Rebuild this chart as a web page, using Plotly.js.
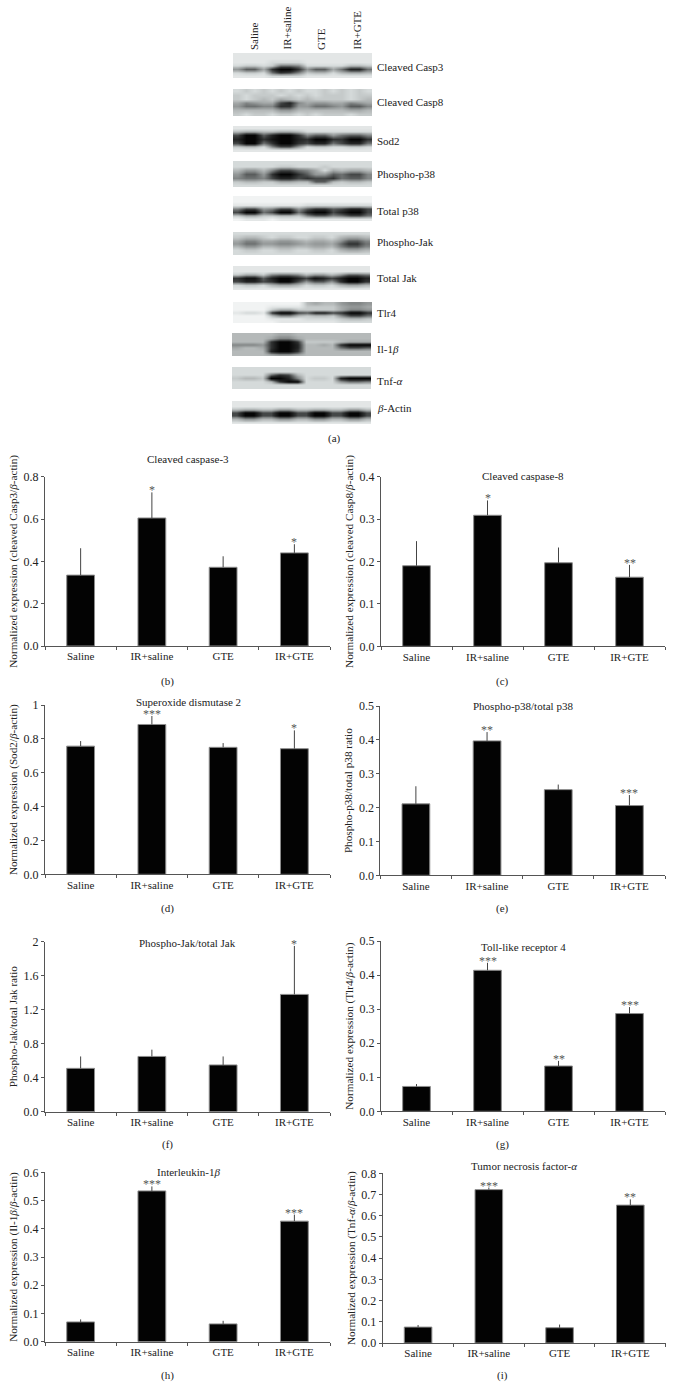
<!DOCTYPE html>
<html>
<head>
<meta charset="utf-8">
<script src="https://cdn.plot.ly/plotly-3.0.1.min.js"></script>
<style>html,body{margin:0;padding:0;background:#fff}</style>
</head>
<body>
<div id="chart" style="width:673px;height:1397px"></div>
<script>
// ---------- data ----------
const groups = ['Saline', 'IR+saline', 'GTE', 'IR+GTE'];

const casp3Values = [0.335, 0.605, 0.372, 0.44];
const casp3Tops   = [0.462, 0.726, 0.424, 0.481];
const casp3Stars  = ['', '*', '', '*'];

const casp8Values = [0.19, 0.309, 0.197, 0.163];
const casp8Tops   = [0.248, 0.344, 0.233, 0.192];
const casp8Stars  = ['', '*', '', '**'];

const sod2Values = [0.757, 0.885, 0.75, 0.742];
const sod2Tops   = [0.787, 0.935, 0.775, 0.85];
const sod2Stars  = ['', '***', '', '*'];

const p38Values = [0.211, 0.397, 0.253, 0.206];
const p38Tops   = [0.263, 0.423, 0.268, 0.237];
const p38Stars  = ['', '**', '', '***'];

const jakValues = [0.51, 0.65, 0.55, 1.38];
const jakTops   = [0.65, 0.73, 0.65, 1.95];
const jakStars  = ['', '', '', '*'];

const tlr4Values = [0.073, 0.414, 0.133, 0.287];
const tlr4Tops   = [0.08, 0.436, 0.148, 0.306];
const tlr4Stars  = ['', '***', '**', '***'];

const il1Values = [0.07, 0.534, 0.063, 0.427];
const il1Tops   = [0.079, 0.55, 0.074, 0.45];
const il1Stars  = ['', '***', '', '***'];

const tnfValues = [0.075, 0.723, 0.072, 0.65];
const tnfTops   = [0.085, 0.733, 0.087, 0.677];
const tnfStars  = ['', '***', '', '**'];

// blot darkness read by eye, hex digit per cell (0 white .. f black), top row first
const blotCasp3 = ['2222222222222222','2222222222222222','2222333322222222','3443499833333554','7aa6cffc7aa69dd9','34439cb845535665','2222333322222222'];
const blotCasp8 = ['3434343433434343','4344434343444344','4345465454444345','68766bd867766876','79988cc779987aa8','5555577555555665','4344344343444344'];
const blotSod2  = ['2222222222222222','5665566533333333','bffadffc8aa79aa8','dffceffdcffccffc','bff9cffcbdd9bdd9','45538bb734433443','2222222222222222'];
const blotPp38  = ['3333333333333333','3333344333433333','57758bb986365665','7aa7cffca77a9bb8','8998bddbcbbc9aa8','455446655aa54554','3333333333333333'];
const blotTp38  = ['1111111111111111','1111111111111111','2222222233333333','8bb78bb7accabddb','bff9bff9dffbdffb','466445548aa89bb9','1222122222222222'];
const blotPjak  = ['3333333333333333','4554344334435665','6886677656657aa8','7997788767769cc9','5775566556658aa8','3443344334435665','3333333333333333'];
const blotTjak  = ['2222222222222222','2222222222222222','4664899857757aa9','ceeadffdbedbdffd','bddbcffb7aa7cffc','3443566534435665','2222222222222222'];
const blotTlr4  = ['1111111156557887','1111222244446776','1111466444446887','2332cffbaddbcffc','1111588545548bb9','1111222233334554','1111122222223333'];
const blotIl1   = ['5555566555555555','5555688655555555','5555cffc44445666','8887cffd5565cfff','6556cffd55559bba','5555dffc55555555','5555677655555555'];
const blotTnf   = ['3333333333333333','3333333333333333','33339cb533333333','4554ffd83443dfff','33335cff33337998','3333333333333333','3333333333333333'];
const blotActin = ['2222222222222222','2222222222222222','5665577556655775','bffbbffbbffbbffb','bffbbffbbffbbffb','5775577557755775','2222222222222222'];

const blotNames = ['Cleaved Casp3','Cleaved Casp8','Sod2','Phospho-p38','Total p38','Phospho-Jak','Total Jak','Tlr4','Il-1<i>β</i>','Tnf-<i>α</i>','<i>β</i>-Actin'];
const blotRows = [blotCasp3,blotCasp8,blotSod2,blotPp38,blotTp38,blotPjak,blotTjak,blotTlr4,blotIl1,blotTnf,blotActin];

// ---------- page geometry ----------
const W = 673, H = 1397;
const fx = p => p / W;
const fy = p => 1 - p / H;
const serif = '"Liberation Serif", "Times New Roman", serif';
const ink = '#222';

const blotBoxes = [
  [233,372,53,78],[233,372,89,116],[233,372,126,152],[233,372,161,187],[233,372,196,221],
  [233,370,232,255],[233,370,266,290],[233,372,302,323],[232,371,333,356],[232,371,367,389],[232,371,401,424]
];
const blotLabelY = [67,102,141,174,211,242,278,313,349,381,408];
const laneLabelX = [254,286,321,356];

const panels = [
  {v:casp3Values,t:casp3Tops,s:casp3Stars,max:0.8,ticks:[0,0.2,0.4,0.6,0.8],text:['0.0','0.2','0.4','0.6','0.8'],box:[45,330,476.7,646],title:'Cleaved caspase-3',tp:[188,459],yt:'Normalized expression (cleaved Casp3/<i>β</i>-actin)',lab:'(b)',lp:[167,681]},
  {v:casp8Values,t:casp8Tops,s:casp8Stars,max:0.4,ticks:[0,0.1,0.2,0.3,0.4],text:['0.0','0.1','0.2','0.3','0.4'],box:[381,665,476.7,646.3],title:'Cleaved caspase-8',tp:[523,476],yt:'Normalized expression (cleaved Casp8/<i>β</i>-actin)',lab:'(c)',lp:[502,681]},
  {v:sod2Values,t:sod2Tops,s:sod2Stars,max:1,ticks:[0,0.2,0.4,0.6,0.8,1],text:['0.0','0.2','0.4','0.6','0.8','1'],box:[45,330,705,874.3],title:'Superoxide dismutase 2',tp:[188,702],yt:'Normalized expression (Sod2/<i>β</i>-actin)',lab:'(d)',lp:[167,908]},
  {v:p38Values,t:p38Tops,s:p38Stars,max:0.5,ticks:[0,0.1,0.2,0.3,0.4,0.5],text:['0.0','0.1','0.2','0.3','0.4','0.5'],box:[380.3,665,706,875.3],title:'Phospho-p38/total p38',tp:[523,706],yt:'Phospho-p38/total p38 ratio',lab:'(e)',lp:[502,908]},
  {v:jakValues,t:jakTops,s:jakStars,max:2,ticks:[0,0.4,0.8,1.2,1.6,2],text:['0.0','0.4','0.8','1.2','1.6','2'],box:[45,330,941.7,1111.7],title:'Phospho-Jak/total Jak',tp:[187,943],yt:'Phospho-Jak/total Jak ratio',lab:'(f)',lp:[167,1144]},
  {v:tlr4Values,t:tlr4Tops,s:tlr4Stars,max:0.5,ticks:[0,0.1,0.2,0.3,0.4,0.5],text:['0.0','0.1','0.2','0.3','0.4','0.5'],box:[381,665,941,1111.3],title:'Toll-like receptor 4',tp:[523,947],yt:'Normalized expression (Tlr4/<i>β</i>-actin)',lab:'(g)',lp:[502,1144]},
  {v:il1Values,t:il1Tops,s:il1Stars,max:0.6,ticks:[0,0.1,0.2,0.3,0.4,0.5,0.6],text:['0.0','0.1','0.2','0.3','0.4','0.5','0.6'],box:[45,330,1172.3,1341.7],title:'Interleukin-1<i>β</i>',tp:[188,1172],yt:'Normalized expression (Il-1<i>β</i>/<i>β</i>-actin)',lab:'(h)',lp:[167,1375]},
  {v:tnfValues,t:tnfTops,s:tnfStars,max:0.8,ticks:[0,0.1,0.2,0.3,0.4,0.5,0.6,0.7,0.8],text:['0.0','0.1','0.2','0.3','0.4','0.5','0.6','0.7','0.8'],box:[382.7,665.7,1173.3,1343],title:'Tumor necrosis factor-<i>α</i>',tp:[524,1166],yt:'Normalized expression (Tnf-<i>α</i>/<i>β</i>-actin)',lab:'(i)',lp:[502,1375]}
];

const traces = [];
const layout = {
  width: W, height: H,
  margin: {l:0,r:0,t:0,b:0},
  paper_bgcolor: '#fff', plot_bgcolor: 'rgba(0,0,0,0)',
  showlegend: false, hovermode: false,
  font: {family: serif, size: 11, color: ink},
  annotations: []
};
const note = (text, px, py, extra) => layout.annotations.push(Object.assign({
  text, x: fx(px), y: fy(py), xref:'paper', yref:'paper', showarrow:false,
  xanchor:'center', yanchor:'middle', font:{family:serif,size:11,color:ink}
}, extra || {}));

let n = 1;
// ---------- bar panels ----------
panels.forEach(p => {
  const xa = n === 1 ? 'x' : 'x' + n, ya = n === 1 ? 'y' : 'y' + n;
  const xk = n === 1 ? 'xaxis' : 'xaxis' + n, yk = n === 1 ? 'yaxis' : 'yaxis' + n;
  traces.push({
    type:'bar', x:groups, y:p.v, xaxis:xa, yaxis:ya, width:0.39,
    marker:{color:'#030303', line:{color:'#8c8c8c', width:1}},
    error_y:{type:'data', symmetric:false, array:p.t.map((t,i)=>+(t-p.v[i]).toFixed(3)), arrayminus:p.v.map(()=>0), color:'#444', thickness:1, width:0}
  });
  p.s.forEach((s,i) => {
    if (s) layout.annotations.push({
      text:s, x:groups[i], y:p.t[i], xref:xa, yref:ya, showarrow:false, xanchor:'center', yanchor:'middle',
      yshift:2, font:{family:serif,size:12,color:'#555'}
    });
  });
  layout[xk] = {
    domain:[fx(p.box[0]),fx(p.box[1])], anchor:ya, type:'category', categoryorder:'array', categoryarray:groups,
    range:[-0.5,3.5], tickson:'boundaries', ticks:'outside', ticklen:3, tickwidth:1, tickcolor:'#555',
    showline:true, linecolor:'#555', linewidth:1, showgrid:false, zeroline:false, tickfont:{family:serif,size:11,color:ink}, fixedrange:true
  };
  layout[yk] = {
    domain:[fy(p.box[3]),fy(p.box[2])], anchor:xa, range:[0,p.max], tickvals:p.ticks, ticktext:p.text,
    ticks:'outside', ticklen:3, tickwidth:1, tickcolor:'#555', showline:true, linecolor:'#555', linewidth:1,
    showgrid:false, zeroline:false, tickfont:{family:serif,size:12,color:ink}, fixedrange:true,
    title:{text:p.yt, standoff:3, font:{family:serif,size:11.2,color:ink}}
  };
  note(p.title, p.tp[0], p.tp[1]);
  note(p.lab, p.lp[0], p.lp[1]);
  n++;
});

// ---------- western blots ----------
blotRows.forEach((rows,i) => {
  const z = rows.map(r => Array.from(r).map(c => parseInt(c,16)));
  const b = blotBoxes[i];
  const xa='x'+n, ya='y'+n;
  traces.push({type:'heatmap', z, xaxis:xa, yaxis:ya, zmin:0, zmax:15, zsmooth:'best', showscale:false, hoverinfo:'skip',
    colorscale:[[0,'#ffffff'],[0.2,'#d5dada'],[0.5,'#8c9090'],[0.8,'#303232'],[1,'#050505']]});
  layout['xaxis'+n] = {domain:[fx(b[0]),fx(b[1])], anchor:ya, visible:false, fixedrange:true};
  layout['yaxis'+n] = {domain:[fy(b[3]),fy(b[2])], anchor:xa, visible:false, autorange:'reversed', fixedrange:true};
  note(blotNames[i], 374.5, blotLabelY[i], {xanchor:'left', font:{family:serif,size:11,color:ink}});
  n++;
});

groups.forEach((g,i) => note(g, laneLabelX[i], 52, {textangle:-90, yanchor:'bottom', font:{family:serif,size:11,color:ink}}));
note('(a)', 334, 439);

Plotly.newPlot('chart', traces, layout, {displayModeBar:false, staticPlot:true});
</script>
</body>
</html>
